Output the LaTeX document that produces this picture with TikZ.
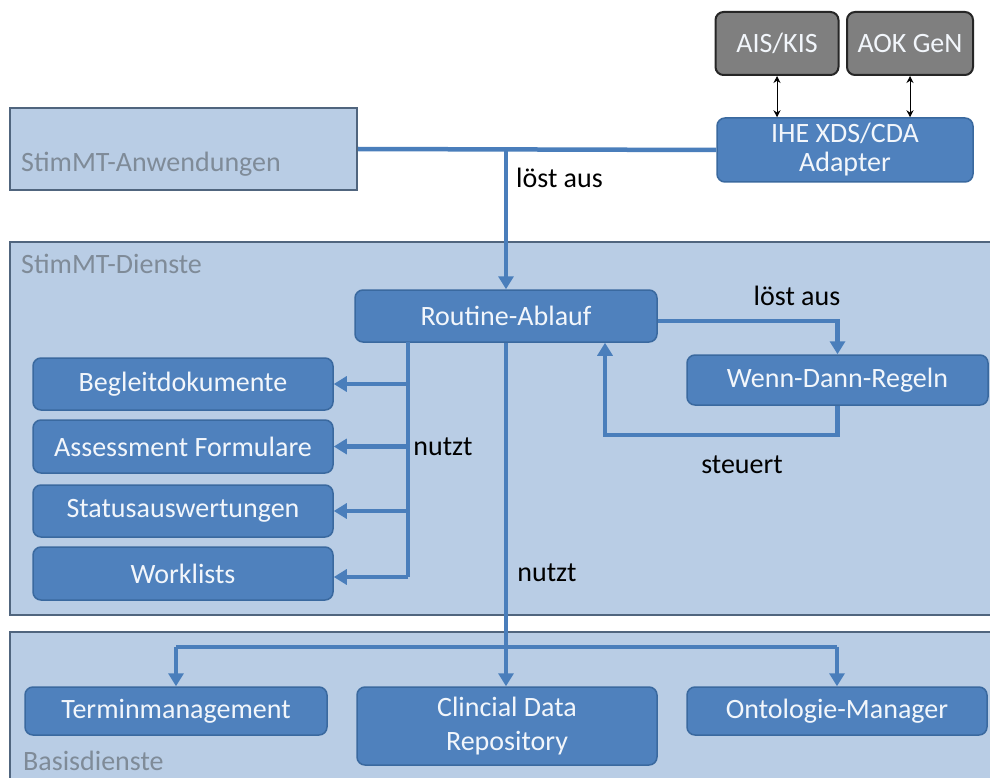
\documentclass[tikz,border=0pt]{standalone}
\usepackage{fontspec}
\setmainfont{Carlito}
\usetikzlibrary{arrows.meta}

\definecolor{layerfill}{HTML}{B9CDE5}
\definecolor{layerdraw}{HTML}{50657E}
\definecolor{layertext}{HTML}{7F8B98}
\definecolor{boxfill}{HTML}{4F81BD}
\definecolor{boxdraw}{HTML}{3A699F}
\definecolor{boxtext}{HTML}{F2F6FB}
\definecolor{extfill}{HTML}{7F7F7F}
\definecolor{extdraw}{HTML}{262626}
\definecolor{wire}{HTML}{4A7EBB}

\tikzset{
  layer/.style={draw=layerdraw, line width=2pt, fill=layerfill, inner sep=0pt},
  layerlabel/.style={text=layertext, inner sep=0pt, anchor=base west,
    font=\fontsize{28}{32}\selectfont},
  svc/.style={draw=boxdraw, line width=1.5pt, fill=boxfill, rounded corners=8pt,
    text=boxtext, font=\fontsize{28}{32}\selectfont, align=center, inner sep=0pt},
  ext/.style={draw=extdraw, line width=2pt, fill=extfill, rounded corners=8pt,
    text=boxtext, font=\fontsize{28}{32}\selectfont, align=center, inner sep=0pt},
  wireline/.style={draw=wire, line width=4.5pt},
  wirearrow/.style={wireline, -{Triangle[width=15pt,length=13pt]}},
  link/.style={draw=black, line width=1pt, {Stealth[length=7pt,width=7pt]}-{Stealth[length=7pt,width=7pt]}},
  tag/.style={text=black, inner sep=0pt, font=\fontsize{28}{32}\selectfont}
}

\begin{document}
\begin{tikzpicture}[x=1pt,y=-1pt]
\useasboundingbox (0,0) rectangle (990,778);
\clip (0,0) rectangle (990,778);
\fill[white] (0,0) rectangle (990,778);

% layers
\node[layer, minimum width=347pt, minimum height=82pt] (anw) at (183.5,149) {};
\node[layer, minimum width=995pt, minimum height=373pt] (dienste) at (507.5,428.5) {};
\node[layer, minimum width=995pt, minimum height=160pt] (basis) at (507.5,712) {};
\node[layerlabel] (anwlabel) at (21,172) {StimMT-Anwendungen};
\node[layerlabel] (dienstelabel) at (21,273) {StimMT-Dienste};
\node[layerlabel] (basislabel) at (23,770) {Basisdienste};

% external systems
\node[ext, minimum width=123pt, minimum height=63pt] (ais) at (777,43.5) {AIS/KIS};
\node[ext, minimum width=126pt, minimum height=63pt] (aok) at (910,43.5) {AOK GeN};
\node[svc, minimum width=256pt, minimum height=64pt] (ihe) at (845,150) {IHE XDS/CDA\\[-3pt]Adapter};

% services
\node[svc, minimum width=302pt, minimum height=52pt] (routine) at (506,316) {Routine-Ablauf};
\node[svc, minimum width=301pt, minimum height=50pt] (wenn) at (837.5,380) {Wenn-Dann-Regeln};
\node[svc, minimum width=300pt, minimum height=52pt] (begl) at (183,384) {Begleitdokumente};
\node[svc, minimum width=300pt, minimum height=53pt] (assess) at (183,446.5) {Assessment Formulare};
\node[svc, minimum width=300pt, minimum height=52pt] (status) at (183,511) {Statusauswertungen};
\node[svc, minimum width=300pt, minimum height=53pt] (work) at (183,573.5) {Worklists};

% base services
\node[svc, minimum width=302pt, minimum height=48pt] (termin) at (176,711) {Terminmanagement};
\node[svc, minimum width=300pt, minimum height=78pt] (cdr) at (507,726) {Clincial Data\\[2pt]Repository};
\node[svc, minimum width=300pt, minimum height=48pt] (onto) at (837,711) {Ontologie-Manager};

% junction points
\coordinate (bus) at (408,342);
\coordinate (busend) at (408,577);
\coordinate (loop) at (605,435);
\coordinate (branch) at (507,647);

% application layer to adapter and routine
\draw[wireline] (anw.east) -- (ihe.west);
\draw[wirearrow] (routine.north |- anw.east) -- (routine.north);
\draw[link] (ais.south) -- (ais.south |- ihe.north);
\draw[link] (aok.south) -- (aok.south |- ihe.north);

% routine triggers rules, rules steer routine
\draw[wirearrow] ([yshift=-5pt]routine.east) -| (wenn.north);
\draw[wirearrow] (wenn.south) |- (loop) -- (loop |- routine.south);

% routine uses documents and forms
\draw[wireline] (bus) -- (busend);
\draw[wirearrow] (bus |- begl.east) -- (begl.east);
\draw[wirearrow] (bus |- assess.east) -- (assess.east);
\draw[wirearrow] (bus |- status.east) -- (status.east);
\draw[wirearrow] (busend) -- (busend -| work.east);

% routine uses base services
\draw[wirearrow] (routine.south) -- (routine.south |- cdr.north);
\draw[wireline] (termin.north |- branch) -- (onto.north |- branch);
\draw[wirearrow] (termin.north |- branch) -- (termin.north);
\draw[wirearrow] (onto.north |- branch) -- (onto.north);

% connector labels
\node[tag, anchor=west] (t1) at (516,178) {löst aus};
\node[tag] (t2) at (797,296) {löst aus};
\node[tag] (t3) at (443,447) {nutzt};
\node[tag] (t4) at (742,465) {steuert};
\node[tag] (t5) at (547,573) {nutzt};
\end{tikzpicture}
\end{document}
